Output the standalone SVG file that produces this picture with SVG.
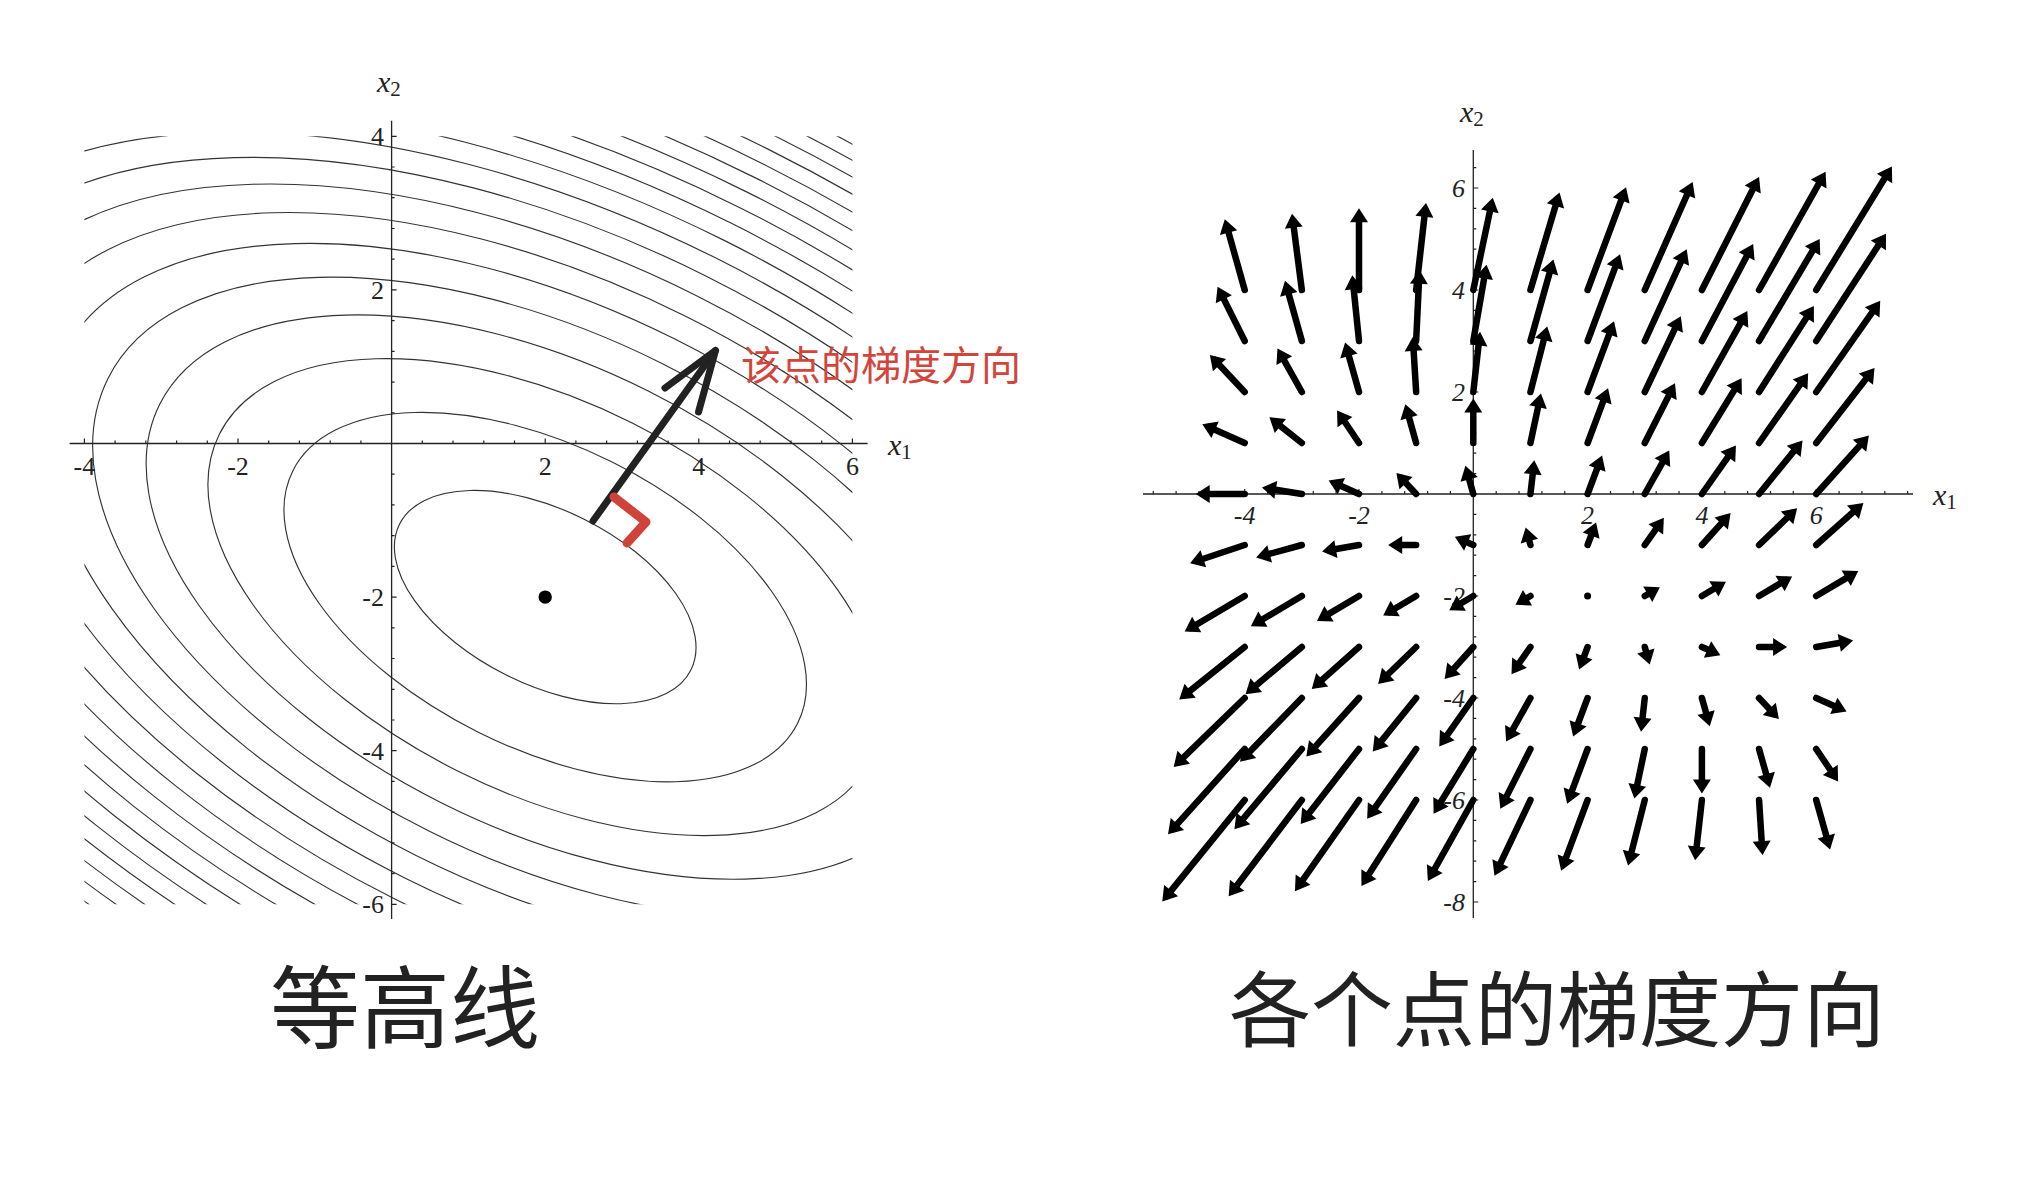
<svg xmlns="http://www.w3.org/2000/svg" width="2020" height="1202" viewBox="0 0 2020 1202">
<style>
.ax{stroke:#222;stroke-width:1.3;fill:none}
.tk{stroke:#222;stroke-width:1.2;fill:none}
.ct{stroke:#333;stroke-width:1.15;fill:none}
.num{font-family:"Liberation Serif","Times New Roman",serif;font-size:26px;fill:#222}
.numi{font-family:"Liberation Serif","Times New Roman",serif;font-size:26px;fill:#222;font-style:italic}
.var{font-family:"Liberation Serif","Times New Roman",serif;font-size:30px;fill:#222}
.arr line{stroke:#000;stroke-width:6.5;stroke-linecap:round;marker-end:url(#ah)}
.title{font-family:"Noto Sans CJK SC","Noto Sans",sans-serif;fill:#222;text-anchor:middle}
</style>
<defs>
<marker id="ah" viewBox="-9 -11 18 22" markerWidth="18" markerHeight="22" refX="0" refY="0" orient="auto" markerUnits="userSpaceOnUse">
<path d="M7,0 L-7,-9 L-7,9 Z" fill="#000"/>
</marker>
<clipPath id="clipL"><rect x="84.4" y="136.3" width="768" height="768"/></clipPath>
</defs>
<rect x="0" y="0" width="2020" height="1202" fill="#fff"/>

<g id="left-plot">
<g id="contours" clip-path="url(#clipL)">
<g transform="translate(545.2,597.1) rotate(26.565)" class="ct">
<ellipse rx="162.9" ry="87.1"/>
<ellipse rx="282.2" ry="150.8"/>
<ellipse rx="364.3" ry="194.7"/>
<ellipse rx="431.0" ry="230.4"/>
<ellipse rx="488.8" ry="261.2"/>
<ellipse rx="540.3" ry="288.8"/>
<ellipse rx="587.4" ry="314.0"/>
<ellipse rx="631.0" ry="337.3"/>
<ellipse rx="671.7" ry="359.1"/>
<ellipse rx="710.1" ry="379.6"/>
<ellipse rx="746.6" ry="399.1"/>
<ellipse rx="781.3" ry="417.6"/>
<ellipse rx="814.6" ry="435.4"/>
<ellipse rx="846.5" ry="452.5"/>
<ellipse rx="877.3" ry="469.0"/>
<ellipse rx="907.1" ry="484.9"/>
<ellipse rx="935.9" ry="500.3"/>
<ellipse rx="963.8" ry="515.2"/>
<ellipse rx="991.0" ry="529.7"/>
<ellipse rx="1017.4" ry="543.8"/>
</g>
</g>
<g id="left-axes">
<path class="ax" d="M69.6,443.5H867.6M391.6,120.7V919"/>
<path class="tk" d="M84.4,443.5v-5M115.1,443.5v-3M145.8,443.5v-3M176.6,443.5v-3M207.3,443.5v-3M238,443.5v-5M268.7,443.5v-3M299.4,443.5v-3M330.2,443.5v-3M360.9,443.5v-3M422.3,443.5v-3M453,443.5v-3M483.8,443.5v-3M514.5,443.5v-3M545.2,443.5v-5M575.9,443.5v-3M606.6,443.5v-3M637.4,443.5v-3M668.1,443.5v-3M698.8,443.5v-5M729.5,443.5v-3M760.2,443.5v-3M791,443.5v-3M821.7,443.5v-3M852.4,443.5v-5
M391.6,136.3h5M391.6,167h3M391.6,197.7h3M391.6,228.5h3M391.6,259.2h3M391.6,289.9h5M391.6,320.6h3M391.6,351.3h3M391.6,382.1h3M391.6,412.8h3M391.6,474.2h3M391.6,504.9h3M391.6,535.7h3M391.6,566.4h3M391.6,597.1h5M391.6,627.8h3M391.6,658.5h3M391.6,689.3h3M391.6,720h3M391.6,750.7h5M391.6,781.4h3M391.6,812.1h3M391.6,842.9h3M391.6,873.6h3M391.6,904.3h5"/>
<g class="num" text-anchor="middle">
<text x="84.4" y="475">-4</text>
<text x="238" y="475">-2</text>
<text x="545.2" y="475">2</text>
<text x="698.8" y="475">4</text>
<text x="852.4" y="475">6</text>
</g>
<g class="num" text-anchor="end">
<text x="384" y="145.3">4</text>
<text x="384" y="298.9">2</text>
<text x="384" y="606.1">-2</text>
<text x="384" y="759.7">-4</text>
<text x="384" y="913.3">-6</text>
</g>
<text class="var" x="377" y="92"><tspan font-style="italic">x</tspan><tspan font-size="21" dy="4">2</tspan></text>
<text class="var" x="888" y="455"><tspan font-style="italic">x</tspan><tspan font-size="21" dy="4">1</tspan></text>
</g>
<circle id="minimum" cx="545.2" cy="597.1" r="6.7" fill="#000"/>
<g id="gradient-arrow" stroke="#222" stroke-width="7" stroke-linecap="round" stroke-linejoin="round" fill="none">
<path d="M593,521L715.5,350.5"/>
<path d="M665,388L715.5,350.5L698.5,412"/>
</g>
<path id="right-angle" d="M614,497L646,522L627,543" stroke="#d0433b" stroke-width="9" stroke-linecap="round" stroke-linejoin="round" fill="none"/>
<text id="annotation" x="741" y="380" font-family="Noto Sans CJK SC, Noto Sans, sans-serif" font-size="40" fill="#d3453b">该点的梯度方向</text>
</g>

<g id="right-plot">
<g id="right-axes">
<path class="ax" d="M1143,494H1913M1473.3,150V918"/>
<path class="tk" d="M1153.3,494v-3M1176.1,494v-3M1199,494v-3M1221.8,494v-3M1244.7,494v-5M1267.6,494v-3M1290.4,494v-3M1313.3,494v-3M1336.1,494v-3M1359,494v-5M1381.9,494v-3M1404.7,494v-3M1427.6,494v-3M1450.4,494v-3M1496.2,494v-3M1519,494v-3M1541.9,494v-3M1564.7,494v-3M1587.6,494v-5M1610.5,494v-3M1633.3,494v-3M1656.2,494v-3M1679,494v-3M1701.9,494v-5M1724.8,494v-3M1747.6,494v-3M1770.5,494v-3M1793.3,494v-3M1816.2,494v-5M1839.1,494v-3M1861.9,494v-3M1884.8,494v-3M1907.6,494v-3
M1473.3,167.6h3M1473.3,188h5M1473.3,208.4h3M1473.3,228.8h3M1473.3,249.2h3M1473.3,269.6h3M1473.3,290h5M1473.3,310.4h3M1473.3,330.8h3M1473.3,351.2h3M1473.3,371.6h3M1473.3,392h5M1473.3,412.4h3M1473.3,432.8h3M1473.3,453.2h3M1473.3,473.6h3M1473.3,514.4h3M1473.3,534.8h3M1473.3,555.2h3M1473.3,575.6h3M1473.3,596h5M1473.3,616.4h3M1473.3,636.8h3M1473.3,657.2h3M1473.3,677.6h3M1473.3,698h5M1473.3,718.4h3M1473.3,738.8h3M1473.3,759.2h3M1473.3,779.6h3M1473.3,800h5M1473.3,820.4h3M1473.3,840.8h3M1473.3,861.2h3M1473.3,881.6h3M1473.3,902h5"/>
<g class="numi" text-anchor="middle">
<text x="1244.7" y="524">-4</text>
<text x="1359" y="524">-2</text>
<text x="1587.6" y="524">2</text>
<text x="1701.9" y="524">4</text>
<text x="1816.2" y="524">6</text>
</g>
<g class="numi" text-anchor="end">
<text x="1465" y="197">6</text>
<text x="1465" y="299">4</text>
<text x="1465" y="401">2</text>
<text x="1465" y="605">-2</text>
<text x="1465" y="707">-4</text>
<text x="1465" y="809">-6</text>
<text x="1465" y="911">-8</text>
</g>
<text class="var" x="1460" y="122"><tspan font-style="italic">x</tspan><tspan font-size="21" dy="4">2</tspan></text>
<text class="var" x="1933" y="505"><tspan font-style="italic">x</tspan><tspan font-size="21" dy="4">1</tspan></text>
</g>
<g id="vector-field" class="arr">
<line x1="1244.7" y1="290" x2="1226.7" y2="225.9"/>
<line x1="1301.85" y1="290" x2="1292.9" y2="220.6"/>
<line x1="1359" y1="290" x2="1359" y2="215.2"/>
<line x1="1416.15" y1="290" x2="1425.2" y2="209.9"/>
<line x1="1473.3" y1="290" x2="1491.3" y2="204.6"/>
<line x1="1530.45" y1="290" x2="1557.5" y2="199.2"/>
<line x1="1587.6" y1="290" x2="1623.6" y2="193.9"/>
<line x1="1644.75" y1="290" x2="1689.8" y2="188.5"/>
<line x1="1701.9" y1="290" x2="1755.9" y2="183.2"/>
<line x1="1759.05" y1="290" x2="1822.1" y2="177.9"/>
<line x1="1816.2" y1="290" x2="1888.2" y2="172.5"/>

<line x1="1244.7" y1="341" x2="1220.7" y2="292.9"/>
<line x1="1301.85" y1="341" x2="1286.9" y2="287.6"/>
<line x1="1359" y1="341" x2="1353" y2="282.3"/>
<line x1="1416.15" y1="341" x2="1419.2" y2="276.9"/>
<line x1="1473.3" y1="341" x2="1485.3" y2="271.6"/>
<line x1="1530.45" y1="341" x2="1551.5" y2="266.2"/>
<line x1="1587.6" y1="341" x2="1617.6" y2="260.9"/>
<line x1="1644.75" y1="341" x2="1683.8" y2="255.6"/>
<line x1="1701.9" y1="341" x2="1749.9" y2="250.2"/>
<line x1="1759.05" y1="341" x2="1816.1" y2="244.9"/>
<line x1="1816.2" y1="341" x2="1882.2" y2="239.5"/>

<line x1="1244.7" y1="392" x2="1214.7" y2="360"/>
<line x1="1301.85" y1="392" x2="1280.9" y2="354.6"/>
<line x1="1359" y1="392" x2="1347" y2="349.3"/>
<line x1="1416.15" y1="392" x2="1413.2" y2="343.9"/>
<line x1="1473.3" y1="392" x2="1479.3" y2="338.6"/>
<line x1="1530.45" y1="392" x2="1545.5" y2="333.3"/>
<line x1="1587.6" y1="392" x2="1611.6" y2="327.9"/>
<line x1="1644.75" y1="392" x2="1677.8" y2="322.6"/>
<line x1="1701.9" y1="392" x2="1743.9" y2="317.2"/>
<line x1="1759.05" y1="392" x2="1810.1" y2="311.9"/>
<line x1="1816.2" y1="392" x2="1876.2" y2="306.6"/>

<line x1="1244.7" y1="443" x2="1208.7" y2="427"/>
<line x1="1301.85" y1="443" x2="1274.9" y2="421.6"/>
<line x1="1359" y1="443" x2="1341" y2="416.3"/>
<line x1="1416.15" y1="443" x2="1407.2" y2="411"/>
<line x1="1473.3" y1="443" x2="1473.3" y2="405.6"/>
<line x1="1530.45" y1="443" x2="1539.5" y2="400.3"/>
<line x1="1587.6" y1="443" x2="1605.6" y2="394.9"/>
<line x1="1644.75" y1="443" x2="1671.8" y2="389.6"/>
<line x1="1701.9" y1="443" x2="1737.9" y2="384.3"/>
<line x1="1759.05" y1="443" x2="1804.1" y2="378.9"/>
<line x1="1816.2" y1="443" x2="1870.2" y2="373.6"/>

<line x1="1244.7" y1="494" x2="1202.7" y2="494"/>
<line x1="1301.85" y1="494" x2="1268.9" y2="488.7"/>
<line x1="1359" y1="494" x2="1335" y2="483.3"/>
<line x1="1416.15" y1="494" x2="1401.2" y2="478"/>
<line x1="1473.3" y1="494" x2="1467.3" y2="472.6"/>
<line x1="1530.45" y1="494" x2="1533.5" y2="467.3"/>
<line x1="1587.6" y1="494" x2="1599.6" y2="462"/>
<line x1="1644.75" y1="494" x2="1665.8" y2="456.6"/>
<line x1="1701.9" y1="494" x2="1731.9" y2="451.3"/>
<line x1="1759.05" y1="494" x2="1798.1" y2="445.9"/>
<line x1="1816.2" y1="494" x2="1864.2" y2="440.6"/>

<line x1="1244.7" y1="545" x2="1196.7" y2="561"/>
<line x1="1301.85" y1="545" x2="1262.9" y2="555.7"/>
<line x1="1359" y1="545" x2="1329" y2="550.3"/>
<line x1="1416.15" y1="545" x2="1395.2" y2="545"/>
<line x1="1473.3" y1="545" x2="1461.3" y2="539.7"/>
<line x1="1530.45" y1="545" x2="1527.5" y2="534.3"/>
<line x1="1587.6" y1="545" x2="1593.6" y2="529"/>
<line x1="1644.75" y1="545" x2="1659.8" y2="523.6"/>
<line x1="1701.9" y1="545" x2="1725.9" y2="518.3"/>
<line x1="1759.05" y1="545" x2="1792.1" y2="513"/>
<line x1="1816.2" y1="545" x2="1858.2" y2="507.6"/>

<line x1="1244.7" y1="596" x2="1190.7" y2="628"/>
<line x1="1301.85" y1="596" x2="1256.9" y2="622.7"/>
<line x1="1359" y1="596" x2="1323" y2="617.4"/>
<line x1="1416.15" y1="596" x2="1389.2" y2="612"/>
<line x1="1473.3" y1="596" x2="1455.3" y2="606.7"/>
<line x1="1530.45" y1="596" x2="1521.5" y2="601.3"/>
<line x1="1644.75" y1="596" x2="1653.8" y2="590.7"/>
<line x1="1701.9" y1="596" x2="1719.9" y2="585.3"/>
<line x1="1759.05" y1="596" x2="1786.1" y2="580"/>
<line x1="1816.2" y1="596" x2="1852.2" y2="574.6"/>

<line x1="1244.7" y1="647" x2="1184.7" y2="695.1"/>
<line x1="1301.85" y1="647" x2="1250.9" y2="689.7"/>
<line x1="1359" y1="647" x2="1317" y2="684.4"/>
<line x1="1416.15" y1="647" x2="1383.2" y2="679"/>
<line x1="1473.3" y1="647" x2="1449.3" y2="673.7"/>
<line x1="1530.45" y1="647" x2="1515.5" y2="668.4"/>
<line x1="1587.6" y1="647" x2="1581.6" y2="663"/>
<line x1="1644.75" y1="647" x2="1647.8" y2="657.7"/>
<line x1="1701.9" y1="647" x2="1713.9" y2="652.3"/>
<line x1="1759.05" y1="647" x2="1780.1" y2="647"/>
<line x1="1816.2" y1="647" x2="1846.2" y2="641.7"/>

<line x1="1244.7" y1="698" x2="1178.7" y2="762.1"/>
<line x1="1301.85" y1="698" x2="1244.9" y2="756.7"/>
<line x1="1359" y1="698" x2="1311" y2="751.4"/>
<line x1="1416.15" y1="698" x2="1377.2" y2="746.1"/>
<line x1="1473.3" y1="698" x2="1443.3" y2="740.7"/>
<line x1="1530.45" y1="698" x2="1509.5" y2="735.4"/>
<line x1="1587.6" y1="698" x2="1575.6" y2="730"/>
<line x1="1644.75" y1="698" x2="1641.8" y2="724.7"/>
<line x1="1701.9" y1="698" x2="1707.9" y2="719.4"/>
<line x1="1759.05" y1="698" x2="1774.1" y2="714"/>
<line x1="1816.2" y1="698" x2="1840.2" y2="708.7"/>

<line x1="1244.7" y1="749" x2="1172.7" y2="829.1"/>
<line x1="1301.85" y1="749" x2="1238.9" y2="823.8"/>
<line x1="1359" y1="749" x2="1305" y2="818.4"/>
<line x1="1416.15" y1="749" x2="1371.2" y2="813.1"/>
<line x1="1473.3" y1="749" x2="1437.3" y2="807.7"/>
<line x1="1530.45" y1="749" x2="1503.5" y2="802.4"/>
<line x1="1587.6" y1="749" x2="1569.6" y2="797.1"/>
<line x1="1644.75" y1="749" x2="1635.8" y2="791.7"/>
<line x1="1701.9" y1="749" x2="1701.9" y2="786.4"/>
<line x1="1759.05" y1="749" x2="1768.1" y2="781"/>
<line x1="1816.2" y1="749" x2="1834.2" y2="775.7"/>

<line x1="1244.7" y1="800" x2="1166.7" y2="896.1"/>
<line x1="1301.85" y1="800" x2="1232.9" y2="890.8"/>
<line x1="1359" y1="800" x2="1299" y2="885.4"/>
<line x1="1416.15" y1="800" x2="1365.2" y2="880.1"/>
<line x1="1473.3" y1="800" x2="1431.3" y2="874.8"/>
<line x1="1530.45" y1="800" x2="1497.5" y2="869.4"/>
<line x1="1587.6" y1="800" x2="1563.6" y2="864.1"/>
<line x1="1644.75" y1="800" x2="1629.8" y2="858.7"/>
<line x1="1701.9" y1="800" x2="1695.9" y2="853.4"/>
<line x1="1759.05" y1="800" x2="1762.1" y2="848.1"/>
<line x1="1816.2" y1="800" x2="1828.2" y2="842.7"/>
</g>
<circle id="zero-gradient" cx="1587.6" cy="596" r="3.5" fill="#000"/>
</g>

<g id="titles">
<text id="title-left" class="title" x="405" y="1041" font-size="90">等高线</text>
<text id="title-right" class="title" x="1557" y="1040" font-size="82">各个点的梯度方向</text>
</g>
</svg>
